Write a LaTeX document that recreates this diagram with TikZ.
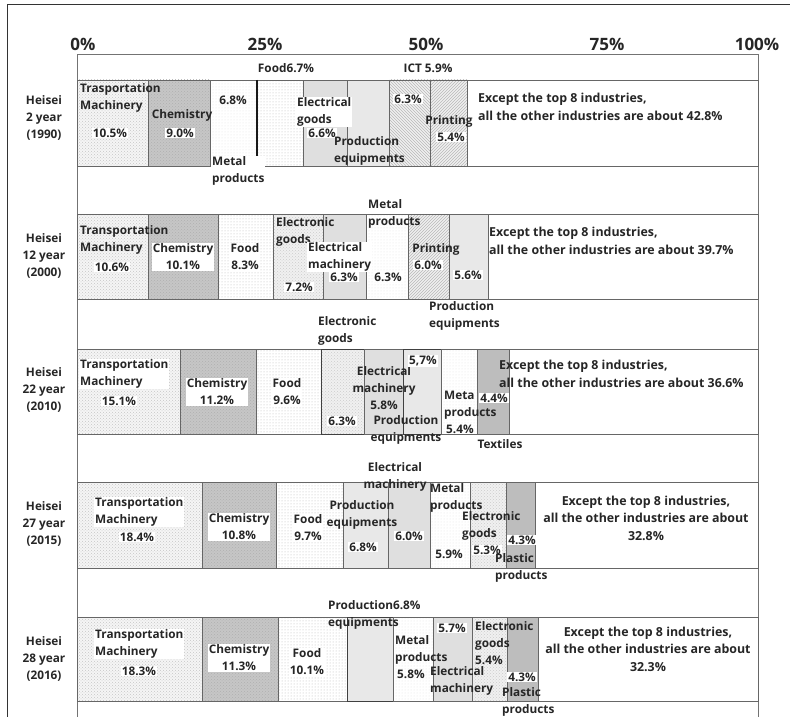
\documentclass[tikz,border=0pt]{standalone}
\usepackage{fontspec}
\setmainfont{Open Sans}
\usetikzlibrary{patterns}
\newcommand\bseg[5]{\path[#1] (#2,#4) rectangle (#3,#5);}
\begin{document}
\begin{tikzpicture}[x=1pt,y=-1pt,
  seg/.style={draw=black!60, line width=0.9pt},
  tm/.style={preaction={fill=gray!8}, preaction={pattern=crosshatch dots, pattern color=gray!45}, seg},
  ch/.style={preaction={fill=gray!45}, preaction={pattern=crosshatch dots, pattern color=gray!62}, seg},
  fd/.style={preaction={fill=white}, preaction={pattern=dots, pattern color=gray!55}, seg},
  mp/.style={preaction={fill=white}, preaction={pattern=dots, pattern color=gray!22}, seg},
  el/.style={fill=gray!25, seg},
  pe/.style={fill=gray!18, seg},
  hta/.style={preaction={fill=gray!12}, preaction={pattern=north west lines, pattern color=gray!55}, seg},
  htb/.style={preaction={fill=gray!12}, preaction={pattern=north east lines, pattern color=gray!55}, seg},
  eg/.style={preaction={fill=gray!12}, preaction={pattern=crosshatch dots, pattern color=gray!40}, seg},
  dk/.style={fill=gray!52, seg},
  rest/.style={fill=white, seg},
  txt/.style={font=\bfseries\fontsize{11.8}{17}\selectfont, inner sep=1pt, text=black!85},
  wl/.style={txt, fill=white},
  ex/.style={font=\bfseries\fontsize{12.4}{17.5}\selectfont, inner sep=1pt, text=black!85},
  hdr/.style={font=\bfseries\fontsize{17}{20}\selectfont, inner sep=0pt, text=black!85},
  yr/.style={txt, align=center}
]
\useasboundingbox (0,0) rectangle (790,717);
% outer frame
\draw[line width=1pt, black!80] (7,717) -- (7,5) -- (790,5);
% chart frame
\draw[line width=1pt, black!55] (77,717) -- (77,55) -- (758,55) -- (758,717);

% header
\node[hdr] (h0) at (83,44) {0\%};
\node[hdr] (h25) at (265,44) {25\%};
\node[hdr] (h50) at (426,44) {50\%};
\node[hdr] (h75) at (607,44) {75\%};
\node[hdr] (h100) at (757,44) {100\%};

% ---- Row 1 (1990)
\bseg{tm}{77}{148}{80}{166}
\bseg{ch}{148}{210}{80}{166}
\bseg{mp}{210}{257}{80}{166}
\bseg{fd}{257}{303}{80}{166}
\bseg{el}{303}{347}{80}{166}
\bseg{pe}{347}{389}{80}{166}
\bseg{hta}{389}{430}{80}{166}
\bseg{htb}{430}{467}{80}{166}
\bseg{rest}{467}{758}{80}{166}
\draw[line width=1.5pt, black!90] (257,80) -- (257,166);

% ---- Row 2 (2000)
\bseg{tm}{77}{148}{214}{299}
\bseg{ch}{148}{218}{214}{299}
\bseg{fd}{218}{273}{214}{299}
\bseg{eg}{273}{323}{214}{299}
\bseg{el}{323}{366}{214}{299}
\bseg{mp}{366}{408}{214}{299}
\bseg{htb}{408}{449}{214}{299}
\bseg{pe}{449}{488}{214}{299}
\bseg{rest}{488}{758}{214}{299}

% ---- Row 3 (2010)
\bseg{tm}{77}{180}{349}{434}
\bseg{ch}{180}{256}{349}{434}
\bseg{fd}{256}{321}{349}{434}
\bseg{eg,draw=black!75}{321}{364}{349}{434}
\bseg{el}{364}{403}{349}{434}
\bseg{pe,draw=black!75}{403}{441}{349}{434}
\bseg{mp}{441}{477}{349}{434}
\bseg{dk}{477}{509}{349}{434}
\bseg{rest}{509}{758}{349}{434}

% ---- Row 4 (2015)
\bseg{tm}{77}{202}{482}{568}
\bseg{ch}{202}{276}{482}{568}
\bseg{fd}{276}{343}{482}{568}
\bseg{pe}{343}{388}{482}{568}
\bseg{el}{388}{430}{482}{568}
\bseg{mp}{430}{470}{482}{568}
\bseg{eg}{470}{506}{482}{568}
\bseg{dk}{506}{535}{482}{568}
\bseg{rest}{535}{758}{482}{568}

% ---- Row 5 (2016)
\bseg{tm}{77}{202}{617}{701}
\bseg{ch}{202}{278}{617}{701}
\bseg{fd}{278}{347}{617}{701}
\bseg{pe,draw=black!75}{347}{393}{617}{701}
\bseg{mp}{393}{433}{617}{701}
\bseg{el}{433}{472}{617}{701}
\bseg{eg}{472}{507}{617}{701}
\bseg{dk}{507}{538}{617}{701}
\bseg{rest}{538}{758}{617}{701}

% ---- year labels
\node[yr] (y1) at (44,118) {Heisei\\2 year\\(1990)};
\node[yr] (y2) at (44,256) {Heisei\\12 year\\(2000)};
\node[yr] (y3) at (44,390) {Heisei\\22 year\\(2010)};
\node[yr] (y4) at (44,524) {Heisei\\27 year\\(2015)};
\node[yr] (y5) at (44,659) {Heisei\\28 year\\(2016)};

% ---- Row 1 labels
\node[txt, align=left, anchor=west] (r1a) at (79,98) {Trasportation\\Machinery};
\node[wl] (r1b) at (110,133) {10.5\%};
\node[txt] (r1c) at (182,115) {Chemistry};
\node[wl] (r1d) at (180,133) {9.0\%};
\node[txt] (r1e) at (233,100) {6.8\%};
\node[wl, align=left, anchor=west] (r1f) at (211,171) {Metal\\products};
\node[txt] (r1g) at (286,68) {Food6.7\%};
\node[wl, align=left, anchor=west] (r1h) at (296,112) {Electrical\\goods};
\node[wl] (r1i) at (322,133) {6.6\%};
\node[txt, align=left, anchor=west] (r1j) at (333,151) {Production\\equipments};
\node[wl] (r1k) at (408,99) {6.3\%};
\node[txt] (r1l) at (428,68) {ICT 5.9\%};
\node[txt] (r1m) at (449,121) {Printing};
\node[wl] (r1n) at (451,137) {5.4\%};
\node[ex, align=left, anchor=west] (r1o) at (477,107) {Except the top 8 industries,\\all the other industries are about 42.8\%};

% ---- Row 2 labels
\node[txt, align=left, anchor=west] (r2a) at (79,240) {Transportation\\Machinery};
\node[wl] (r2b) at (112,267) {10.6\%};
\node[wl, align=center] (r2c) at (183,257) {Chemistry\\10.1\%};
\node[wl, align=center] (r2e) at (245,257) {Food\\8.3\%};
\node[txt, align=left, anchor=west] (r2g) at (275,232) {Electronic\\goods};
\node[wl] (r2h) at (299,287) {7.2\%};
\node[wl, align=left, anchor=west] (r2i) at (307,257) {Electrical\\machinery};
\node[wl] (r2j) at (344,277) {6.3\%};
\node[wl] (r2k) at (388,277) {6.3\%};
\node[txt, align=left, anchor=west] (r2l) at (367,214) {Metal\\products};
\node[txt] (r2m) at (436,249) {Printing};
\node[wl] (r2n) at (428,265) {6.0\%};
\node[wl] (r2o) at (468,275) {5.6\%};
\node[txt, align=left, anchor=west] (r2p) at (428,316) {Production\\equipments};
\node[ex, align=left, anchor=west] (r2q) at (488,241) {Except the top 8 industries,\\all the other industries are about 39.7\%};

% ---- Row 3 labels
\node[txt, align=left, anchor=west] (r3a) at (317,331) {Electronic\\goods};
\node[wl, align=left, anchor=west] (r3b) at (79,374) {Transportation\\Machinery};
\node[wl] (r3c) at (119,401) {15.1\%};
\node[wl, align=center] (r3d) at (217,392) {Chemistry\\11.2\%};
\node[wl, align=center] (r3e) at (287,392) {Food\\9.6\%};
\node[wl] (r3f) at (342,421) {6.3\%};
\node[txt, align=center] (r3g) at (384,388) {Electrical\\machinery\\5.8\%};
\node[txt, align=center] (r3h) at (406,430) {Production\\equipments};
\node[wl] (r3i) at (423,361) {5,7\%};
\node[txt, align=left, anchor=west] (r3j) at (443,412) {Meta\\products\\\,5.4\%};
\node[wl] (r3k) at (494,398) {4.4\%};
\node[txt] (r3l) at (500,444) {Textiles};
\node[ex, align=left, anchor=west] (r3m) at (498,374) {Except the top 8 industries,\\all the other industries are about 36.6\%};

% ---- Row 4 labels
\node[txt, align=center] (r4a) at (395,477) {Electrical\\machinery};
\node[wl, align=left, anchor=west] (r4b) at (94,512) {Transportation\\Machinery};
\node[wl] (r4c) at (137,537) {18.4\%};
\node[wl, align=center] (r4d) at (239,527) {Chemistry\\10.8\%};
\node[wl, align=center] (r4e) at (308,528) {Food\\9.7\%};
\node[txt, align=center] (r4f) at (362,515) {Production\\equipments};
\node[wl] (r4g) at (363,547) {6.8\%};
\node[wl] (r4h) at (409,536) {6.0\%};
\node[txt, align=left, anchor=west] (r4i) at (429,498) {Metal\\products};
\node[wl] (r4j) at (449,554) {5.9\%};
\node[txt, align=left, anchor=west] (r4k) at (461,526) {Electronic\\goods};
\node[wl] (r4l) at (487,550) {5.3\%};
\node[wl] (r4m) at (522,540) {4.3\%};
\node[txt, align=left, anchor=west] (r4n) at (494,568) {Plastic\\products};
\node[ex, align=center] (r4o) at (646,518) {Except the top 8 industries,\\all the other industries are about\\32.8\%};

% ---- Row 5 labels
\node[txt, align=left, anchor=west] (r5a) at (327,615) {Production6.8\%\\equipments};
\node[wl, align=left, anchor=west] (r5b) at (94,644) {Transportation\\Machinery};
\node[wl] (r5c) at (139,671) {18.3\%};
\node[wl, align=center] (r5d) at (239,658) {Chemistry\\11.3\%};
\node[wl, align=center] (r5e) at (307,662) {Food\\10.1\%};
\node[txt, align=left, anchor=west] (r5f) at (394,657) {Metal\\products\\\,5.8\%};
\node[wl] (r5g) at (452,628) {5.7\%};
\node[txt, align=left, anchor=west] (r5h) at (429,681) {Electrical\\machinery};
\node[txt, align=left, anchor=west] (r5i) at (474,643) {Electronic\\goods\\5.4\%};
\node[wl] (r5j) at (522,677) {4.3\%};
\node[txt, align=left, anchor=west] (r5k) at (501,702) {Plastic\\products};
\node[ex, align=center] (r5l) at (648,649) {Except the top 8 industries,\\all the other industries are about\\32.3\%};
\end{tikzpicture}
\end{document}
